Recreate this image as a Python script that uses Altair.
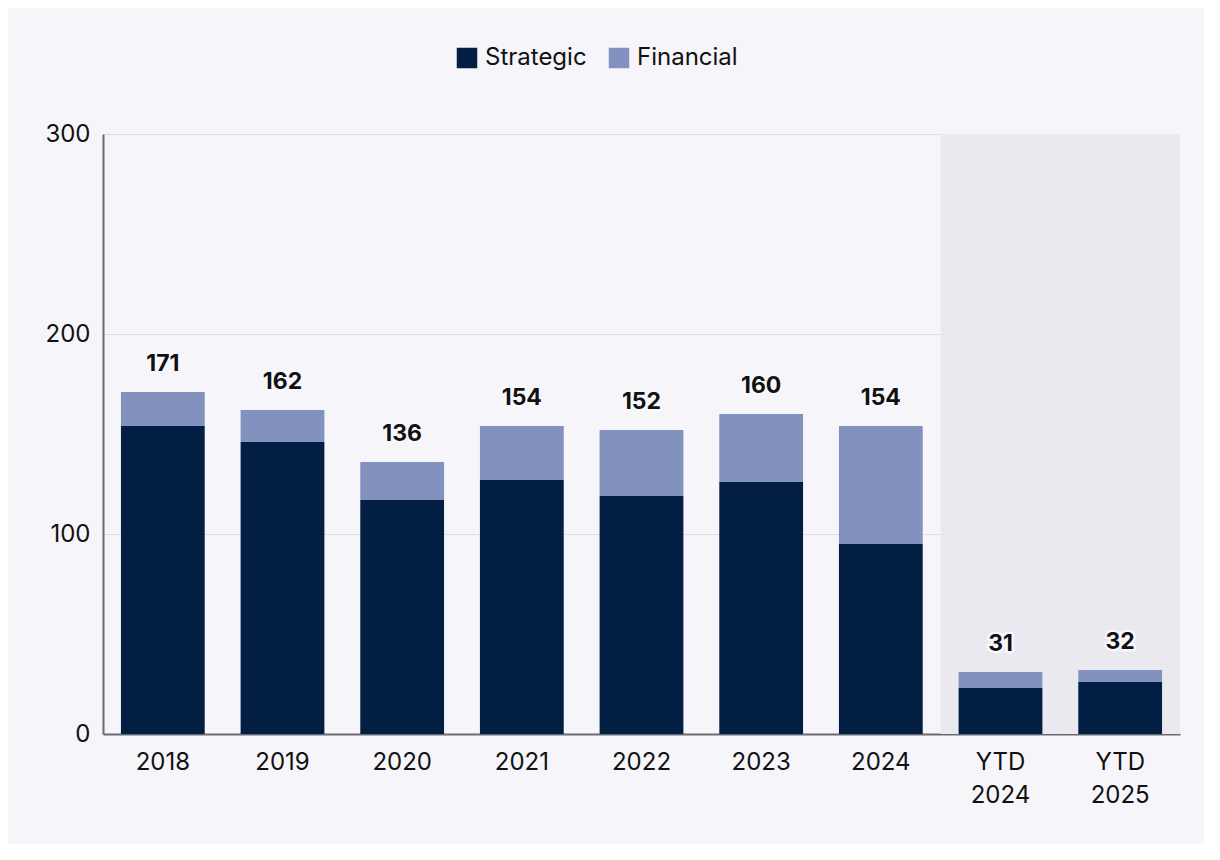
import altair as alt
import pandas as pd

categories = ["2018", "2019", "2020", "2021", "2022", "2023", "2024", "YTD 2024", "YTD 2025"]
strategic = [154, 146, 117, 127, 119, 126, 95, 23, 26]
totals = [171, 162, 136, 154, 152, 160, 154, 31, 32]
financial = [t - s for t, s in zip(totals, strategic)]
shaded = ["YTD 2024", "YTD 2025"]

rows = []
for c, s, f in zip(categories, strategic, financial):
    rows.append({"cat": c, "type": "Strategic", "value": s, "ord": 0})
    rows.append({"cat": c, "type": "Financial", "value": f, "ord": 1})
df = pd.DataFrame(rows)
tot = pd.DataFrame({"cat": categories, "total": totals})
shade = pd.DataFrame({"cat": shaded, "top": [300, 300]})

FONT = "Inter"
xscale = alt.Scale(domain=categories, paddingInner=0, paddingOuter=0)
yscale = alt.Scale(domain=[0, 300])

xenc = alt.X("cat:N", scale=xscale, sort=categories,
             axis=alt.Axis(title=None, labelAngle=0, ticks=False, domainColor="#6b6b73",
                           domainWidth=2, labelFontSize=24, labelColor="#111111",
                           labelPadding=16, labelFont=FONT, labelLineHeight=33,
                           labelExpr="split(datum.label, ' ')"))

bg = alt.Chart(shade).mark_bar(color="#eae9ef", width=alt.RelativeBandSize(1)).encode(
    x=xenc,
    y=alt.Y("top:Q", scale=yscale),
)

bars = alt.Chart(df).mark_bar(width=alt.RelativeBandSize(0.7)).encode(
    x=xenc,
    y=alt.Y("value:Q", stack="zero", scale=yscale,
            axis=alt.Axis(title=None, values=[0, 100, 200, 300], ticks=False,
                          domainColor="#6b6b73", domainWidth=2, gridColor="#dcdce2",
                          labelFontSize=24, labelColor="#111111", labelPadding=13,
                          labelFont=FONT)),
    color=alt.Color("type:N",
                    scale=alt.Scale(domain=["Strategic", "Financial"], range=["#031e43", "#8391bf"]),
                    legend=alt.Legend(title=None, orient="none", legendX=352, legendY=-88,
                                      direction="horizontal", symbolType="square",
                                      symbolSize=420, symbolStrokeWidth=0, labelFontSize=24,
                                      labelColor="#111111", labelFont=FONT, columnPadding=20,
                                      labelOffset=6, labelLimit=300)),
    order=alt.Order("ord:Q"),
)

halo = alt.Chart(tot).mark_text(baseline="bottom", dy=-16, fontSize=23, fontWeight="bold",
                                 font=FONT, stroke="#f8f8fc", strokeWidth=5,
                                 strokeJoin="round", color="#f8f8fc").encode(
    x=alt.X("cat:N", scale=xscale, sort=categories),
    y=alt.Y("total:Q", scale=yscale),
    text="total:Q",
)
labels = alt.Chart(tot).mark_text(baseline="bottom", dy=-16, fontSize=23, fontWeight="bold",
                                   font=FONT, color="#111111").encode(
    x=alt.X("cat:N", scale=xscale, sort=categories),
    y=alt.Y("total:Q", scale=yscale),
    text="total:Q",
)

chart = alt.layer(bg, bars, halo, labels).properties(
    width=1077, height=600,
    autosize=alt.AutoSizeParams(type="none"),
    padding={"left": 95, "top": 126, "right": 24, "bottom": 110},
    background="#f5f5fa",
).configure_view(stroke=None)

chart.save("out.html", embed_options={"renderer": "svg", "actions": False})
